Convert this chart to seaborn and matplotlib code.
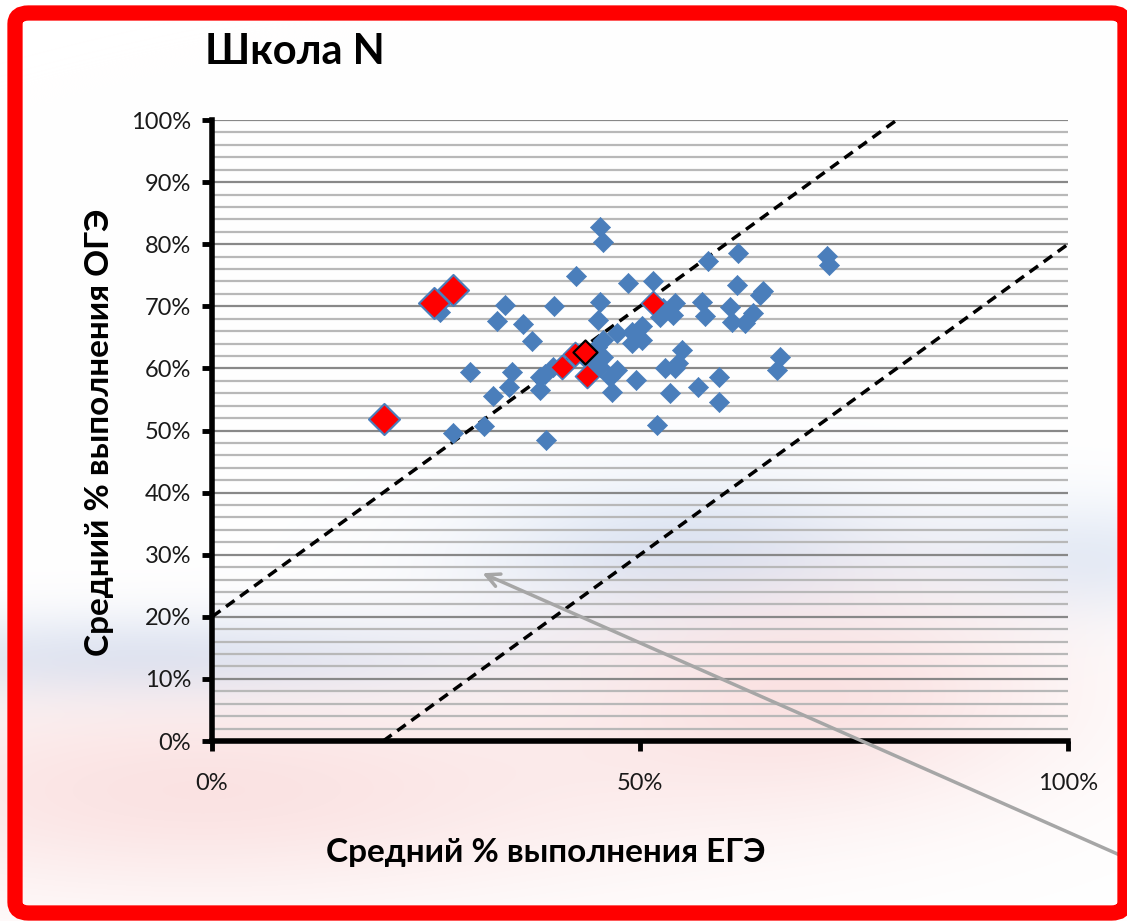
import numpy as np
import pandas as pd
import matplotlib
matplotlib.use("Agg")
import matplotlib.pyplot as plt
import matplotlib.patches as mpatches
from matplotlib.ticker import MultipleLocator, PercentFormatter
import seaborn as sns

sns.set_theme(style="white")
plt.rcParams['font.family'] = ['Lato', 'DejaVu Sans']

# school averages, % (EGE on x, OGE on y)
ege_blue = [45.3, 45.7, 42.5, 48.6, 51.5, 57.9, 61.4, 61.3, 64.4, 64.0, 71.8, 72.1,
            45.3, 40.0, 34.2, 26.6, 33.3, 36.3, 37.4, 45.1, 57.2, 57.6, 60.5, 60.7,
            62.3, 63.2, 52.3, 54.1, 53.9, 52.7, 47.3, 49.1, 50.2, 49.1, 50.2, 45.7,
            54.9, 54.4, 52.9, 54.1, 45.7, 45.3, 47.3, 46.5, 46.7, 49.5, 53.5, 56.8,
            59.2, 59.2, 66.4, 66.0, 52.0, 30.1, 35.0, 34.7, 32.8, 38.3, 38.3, 39.8,
            31.8, 28.2, 39.0, 38.9, 44.0, 45.0]
oge_blue = [82.8, 80.4, 74.9, 73.8, 74.1, 77.3, 78.6, 73.4, 72.5, 71.8, 78.1, 76.7,
            70.7, 70.0, 70.2, 69.1, 67.6, 67.1, 64.4, 67.8, 70.7, 68.4, 69.9, 67.5,
            67.3, 68.9, 68.3, 70.5, 68.6, 69.7, 65.7, 65.9, 66.8, 64.1, 64.6, 64.6,
            63.0, 60.9, 60.1, 60.1, 61.8, 60.2, 59.7, 58.6, 56.2, 58.1, 56.0, 57.0,
            58.6, 54.6, 61.8, 59.7, 50.9, 59.4, 59.4, 57.0, 55.6, 58.6, 56.5, 60.2,
            50.7, 49.6, 48.5, 59.1, 61.0, 63.5]

# schools of interest
red_big_ege = [25.9, 28.2, 20.1]
red_big_oge = [70.5, 72.6, 51.9]
red_mid_ege = [40.9, 43.8, 42.4, 51.5]
red_mid_oge = [60.2, 58.8, 62.3, 70.5]
school_n_ege = [43.6]
school_n_oge = [62.6]

# boundaries: OGE = EGE + 20 and OGE = EGE - 20
upper_x = [0, 80]
upper_y = [20, 100]
lower_x = [20, 100]
lower_y = [0, 80]

blue = '#4a7ebb'
W, H = 1127, 921
fig = plt.figure(figsize=(W / 100, H / 100), dpi=100)

# soft flag-like background
yy, xx = np.mgrid[0:H, 0:W].astype(float)
bg = np.ones((H, W, 3))
def tint(img, weight, color):
    for c in range(3):
        img[..., c] = img[..., c] * (1 - weight) + color[c] * weight
blue_w = 0.9 * np.exp(-((xx - 700) / 220) ** 2 - ((yy - 555) / 75) ** 2)
blue_w += 0.85 * np.exp(-((yy - 660) / 45) ** 2) * np.exp(-((xx - 150) / 380) ** 2)
blue_w += 0.6 * np.exp(-((yy - 560) / 60) ** 2) * np.exp(-((xx - 1100) / 150) ** 2)
tint(bg, np.clip(blue_w, 0, 1), (0.83, 0.88, 0.95))
pink_w = 0.85 * np.exp(-((yy - 790) / 110) ** 2) * np.exp(-((xx - 200) / 450) ** 2)
pink_w += 0.8 * np.exp(-((yy - 690) / 120) ** 2) * np.exp(-((xx - 820) / 260) ** 2)
tint(bg, np.clip(pink_w, 0, 1), (0.98, 0.87, 0.87))
bax = fig.add_axes([0, 0, 1, 1], zorder=-5)
bax.imshow(bg, aspect='auto', extent=[0, 1, 0, 1])
bax.axis('off')

ax = fig.add_axes([212 / W, 1 - 741 / H, (1068 - 212) / W, (741 - 120) / H])
ax.set_facecolor('none')

# grid every 2 %, darker at 10 %
for v in np.arange(2, 101, 2):
    major = v % 10 == 0
    ax.axhline(v, color='#888888' if major else '#b8b8b8', lw=1.6, zorder=0)

ax.plot(upper_x, upper_y, ls=(0, (3, 2)), color='black', lw=2.5, zorder=2)
ax.plot(lower_x, lower_y, ls=(0, (3, 2)), color='black', lw=2.5, zorder=2)

df_blue = pd.DataFrame({'ege': ege_blue, 'oge': oge_blue})
sns.scatterplot(data=df_blue, x='ege', y='oge', marker='D', s=105, color=blue,
                edgecolor=blue, linewidth=0.5, ax=ax, zorder=3)
sns.scatterplot(x=red_big_ege, y=red_big_oge, marker='D', s=250, color='red',
                edgecolor=blue, linewidth=1.5, ax=ax, zorder=4)
sns.scatterplot(x=red_mid_ege, y=red_mid_oge, marker='D', s=150, color='red',
                edgecolor=blue, linewidth=1.2, ax=ax, zorder=4)
sns.scatterplot(x=school_n_ege, y=school_n_oge, marker='D', s=150, color='red',
                edgecolor='black', linewidth=1.6, ax=ax, zorder=5)

ax.set_xlim(0, 100)
ax.set_ylim(0, 100)
ax.xaxis.set_major_locator(MultipleLocator(50))
ax.yaxis.set_major_locator(MultipleLocator(10))
ax.xaxis.set_major_formatter(PercentFormatter(decimals=0))
ax.yaxis.set_major_formatter(PercentFormatter(decimals=0))
ax.tick_params(axis='both', direction='out', length=7, width=3.5, color='black',
               labelsize=17, labelcolor='#1a1a1a', bottom=True, left=True)
ax.tick_params(axis='x', pad=16)
ax.tick_params(axis='y', pad=8)
for side in ['top', 'right']:
    ax.spines[side].set_visible(False)
for side in ['left', 'bottom']:
    ax.spines[side].set_color('black')
    ax.spines[side].set_linewidth(4)
ax.set_xlabel('Средний % выполнения ЕГЭ', fontsize=24, fontweight='bold',
              color='black')
ax.xaxis.set_label_coords((546 - 212) / 856, -(852 - 741) / 621)
ax.xaxis.label.set_va('center')
ax.set_ylabel('Средний % выполнения ОГЭ', fontsize=24, fontweight='bold',
              color='black')
ax.yaxis.set_label_coords(-(212 - 100) / 856, (741 - 432) / 621)
ax.yaxis.label.set_va('center')

fig.text(205 / W, 1 - 52 / H, 'Школа N', fontsize=30, fontweight='bold',
         ha='left', va='center', color='black')

# pointer arrow
ax.annotate('', xy=(31.3, 27.2), xycoords='data',
            xytext=(1122 / W, 1 - 856 / H), textcoords='figure fraction',
            arrowprops=dict(arrowstyle='->,head_length=0.8,head_width=0.4',
                        color='#a6a6a6', lw=2.5),
            annotation_clip=False, zorder=6)

# red frame
frame = mpatches.FancyBboxPatch((15 / W, 8 / H), (W - 17) / W, (H - 21) / H,
                                boxstyle='round,pad=0,rounding_size=0.012',
                                transform=fig.transFigure, fill=False,
                                edgecolor='red', lw=11, zorder=10)
fig.patches.append(frame)

fig.savefig('out.png', dpi=100)
